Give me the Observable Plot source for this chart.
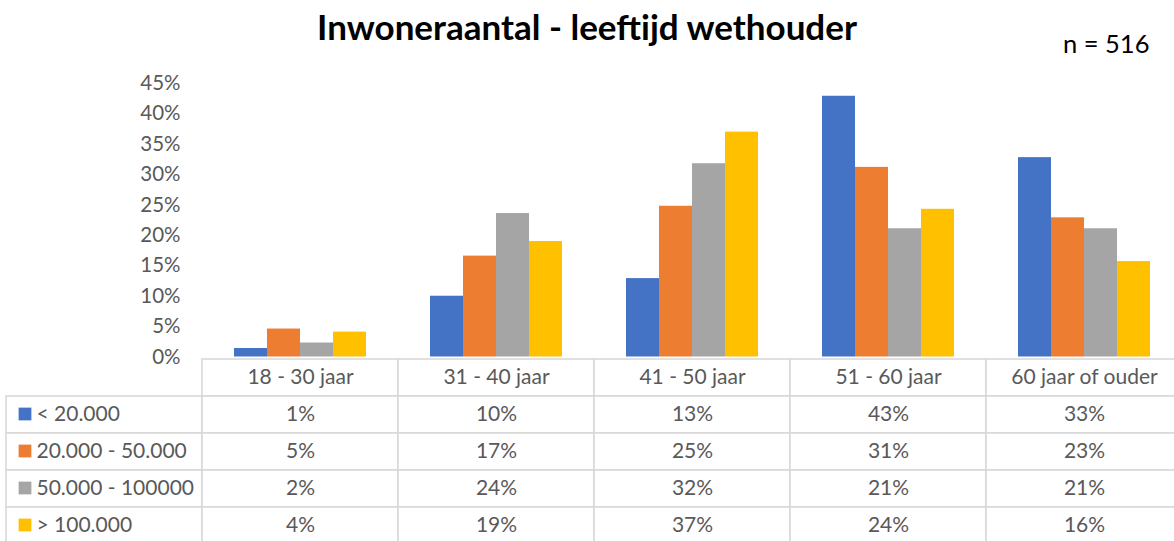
<!DOCTYPE html>
<html><head><meta charset="utf-8">
<script src="https://cdn.jsdelivr.net/npm/d3@7"></script>
<script src="https://cdn.jsdelivr.net/npm/@observablehq/plot@0.6"></script>
<style>
html,body{margin:0;padding:0;background:#fff;overflow:hidden;}
#wrap{position:relative;width:1174px;height:541px;overflow:hidden;}
#title{position:absolute;left:0;width:1174px;top:5px;text-align:center;font:bold 35px Lato,sans-serif;color:#000;}
#n{position:absolute;left:1063px;top:28px;font:25.5px Lato,sans-serif;color:#000;}
#chart{position:absolute;left:0;top:0;}
#table{position:absolute;left:0;top:356px;}
</style></head>
<body><div id="wrap"><div id="chart"></div><div id="table"></div><div id="title">Inwoneraantal - leeftijd wethouder</div><div id="n">n = 516</div></div>
<script>
const categories = ["18 - 30 jaar", "31 - 40 jaar", "41 - 50 jaar", "51 - 60 jaar", "60 jaar of ouder"];
const series = ["< 20.000", "20.000 - 50.000", "50.000 - 100000", "> 100.000"];
const colors = ["#4472C4", "#ED7D31", "#A5A5A5", "#FFC000"];
const v_lt20k = [0.014, 0.100, 0.129, 0.429, 0.328];
const v_20k50k = [0.046, 0.166, 0.248, 0.312, 0.229];
const v_50k100k = [0.023, 0.236, 0.318, 0.211, 0.211];
const v_gt100k = [0.041, 0.190, 0.370, 0.243, 0.157];
const yTicks = [0, 0.05, 0.10, 0.15, 0.20, 0.25, 0.30, 0.35, 0.40, 0.45];

const values = [v_lt20k, v_20k50k, v_50k100k, v_gt100k];
const data = [];
series.forEach((s, i) => categories.forEach((c, j) => data.push({series: s, age: c, value: values[i][j]})));

const font = "Lato, sans-serif";
const grey = "#595959";
const gridColor = "#d9d9d9";

const chartPlot = Plot.plot({
  width: 1183, height: 357,
  marginTop: 0, marginBottom: 0.5, marginLeft: 200, marginRight: 0,
  style: {fontFamily: font, fontSize: "20.5px", color: grey, maxWidth: "none", background: "transparent", overflow: "visible"},
  fx: {domain: categories, padding: 0, axis: null},
  x: {domain: series, paddingInner: 0, paddingOuter: 0.89, axis: null},
  y: {domain: [0, 0.45], range: [356.5, 83], ticks: yTicks, tickFormat: d3.format(".0%"), tickSize: 0, tickPadding: 22, label: null},
  color: {domain: series, range: colors},
  marks: [
    Plot.barY(data, {fx: "age", x: "series", y: "value", fill: "series"})
  ]
});
document.getElementById("chart").appendChild(chartPlot);

// table
const cols = ["", ...categories];
const rows = ["header", ...series];
const cells = [];
categories.forEach(c => cells.push({col: c, row: "header"}));
series.forEach(s => cols.forEach(c => cells.push({col: c, row: s})));
const headerTexts = categories.map(c => ({col: c, row: "header", label: c}));
const valueTexts = data.map(d => ({col: d.age, row: d.series, label: d3.format(".0%")(d.value)}));
const legendItems = series.map(s => ({col: "", row: s, label: s}));

const tablePlot = Plot.plot({
  width: 1183, height: 185,
  margin: 0,
  style: {fontFamily: font, fontSize: "21px", color: grey, maxWidth: "none", background: "transparent"},
  x: {type: "band", domain: cols, range: [4, 1183], padding: 0, axis: null},
  y: {type: "band", domain: rows, range: [0.7, 190.2], padding: 0, axis: null},
  color: {domain: series, range: colors},
  marks: [
    Plot.cell(cells, {x: "col", y: "row", fill: "white", stroke: gridColor, strokeWidth: 1.6, inset: 0}),
    Plot.text(headerTexts, {x: "col", y: "row", text: "label", fill: grey, fontSize: 21, dy: -1}),
    Plot.text(valueTexts, {x: "col", y: "row", text: "label", fill: grey, fontSize: 21, dy: -1}),
    Plot.dot(legendItems, {x: "col", y: "row", fill: "label", symbol: "square", r: 7.2, dx: -79.5, dy: -1}),
    Plot.text(legendItems, {x: "col", y: "row", text: "label", fill: grey, fontSize: 21, textAnchor: "start", dx: -68, dy: -1})
  ]
});
document.getElementById("table").appendChild(tablePlot);
</script></body></html>
